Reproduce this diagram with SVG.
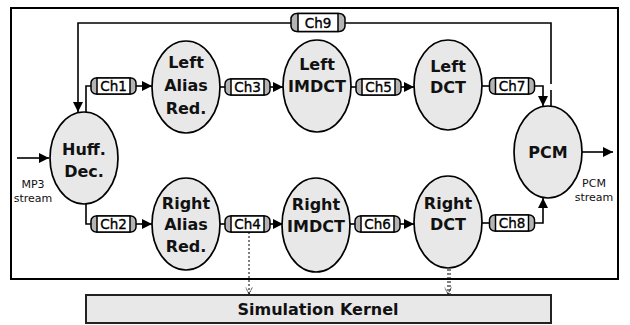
<svg xmlns="http://www.w3.org/2000/svg" width="630" height="325" viewBox="0 0 630 325">
<style>
.node ellipse{fill:#e8e8e8;stroke:#000;stroke-width:1.7}
.lbl{font-family:"DejaVu Sans",sans-serif;font-weight:bold;font-size:16px;text-anchor:middle;fill:#111}
.cap{fill:#b4b4b4;stroke:#000;stroke-width:1.5}
.mid{fill:#fff;stroke:#000;stroke-width:1.5}
.ct{font-family:"DejaVu Sans",sans-serif;font-size:13.5px;text-anchor:middle;fill:#000;stroke:#000;stroke-width:0.35}
.sm{font-family:"DejaVu Sans",sans-serif;font-size:11px;text-anchor:middle;fill:#111}
.w{fill:none;stroke:#000;stroke-width:1.6}
.dot{fill:none;stroke:#000;stroke-width:1;stroke-dasharray:2 2}
</style>
<defs>
<marker id="ah" viewBox="0 0 10 10" refX="10" refY="5" markerWidth="10" markerHeight="10" markerUnits="userSpaceOnUse" orient="auto">
<path d="M0,0 L10,5 L0,10 z" fill="#000"/>
</marker>
<marker id="ao" viewBox="0 0 10 10" refX="9" refY="5" markerWidth="8" markerHeight="8" markerUnits="userSpaceOnUse" orient="auto">
<path d="M1,1 L9,5 L1,9" fill="none" stroke="#000" stroke-width="1.2" stroke-dasharray="1.5 1"/>
</marker>
</defs>
<rect x="0" y="0" width="630" height="325" fill="#fff"/>
<rect id="frame" x="11" y="8" width="607" height="271" fill="#fff" stroke="#000" stroke-width="2"/>
<g id="kernel">
<rect x="86" y="295" width="465" height="28" fill="#e8e8e8" stroke="#222" stroke-width="2"/>
<text class="lbl" x="318" y="315">Simulation Kernel</text>
</g>
<g id="connectors">
<path class="w" d="M17,158 H49" stroke-width="2.2" marker-end="url(#ah)"/>
<path class="w" d="M86,112 V86 H91"/>
<path class="w" d="M136,86 H152" marker-end="url(#ah)"/>
<path class="w" d="M220,87 H225"/>
<path class="w" d="M270,87 H283" marker-end="url(#ah)"/>
<path class="w" d="M351,87 H356"/>
<path class="w" d="M401,87 H414" marker-end="url(#ah)"/>
<path class="w" d="M482,86 H489"/>
<path class="w" d="M535,86 H543 V106" marker-end="url(#ah)"/>
<path class="w" d="M551,107 V90 M551,84 V23 H345"/>
<path class="w" d="M291,23 H78 V112" marker-end="url(#ah)"/>
<path class="w" d="M86,204 V224 H91"/>
<path class="w" d="M136,224 H152" marker-end="url(#ah)"/>
<path class="w" d="M220,224 H225"/>
<path class="w" d="M270,224 H283" marker-end="url(#ah)"/>
<path class="w" d="M350,224 H355"/>
<path class="w" d="M400,224 H414" marker-end="url(#ah)"/>
<path class="w" d="M482,223 H489"/>
<path class="w" d="M535,223 H543 V198" marker-end="url(#ah)"/>
<path class="w" d="M582,152 H613" marker-end="url(#ah)"/>
<path class="dot" d="M249,228 V294" marker-end="url(#ao)"/>
<path class="dot" d="M448,269 V294" marker-end="url(#ao)"/>
<path class="dot" d="M450,269 V294"/>
</g>
<g id="mp3-label"><text class="sm" x="33" y="188">MP3</text><text class="sm" x="33" y="202">stream</text></g>
<g id="pcm-label"><text class="sm" x="594" y="187">PCM</text><text class="sm" x="594" y="201">stream</text></g>
<g id="huff" class="node"><ellipse cx="84" cy="158" rx="34" ry="46"/><text class="lbl" x="84" y="155">Huff.</text><text class="lbl" x="84" y="177">Dec.</text></g>
<g id="left-alias" class="node"><ellipse cx="186" cy="87" rx="34" ry="46"/><text class="lbl" x="186" y="68">Left</text><text class="lbl" x="186" y="91">Alias</text><text class="lbl" x="186" y="114">Red.</text></g>
<g id="left-imdct" class="node"><ellipse cx="317" cy="86" rx="34" ry="46"/><text class="lbl" x="317" y="70">Left</text><text class="lbl" x="317" y="92">IMDCT</text></g>
<g id="left-dct" class="node"><ellipse cx="448" cy="85" rx="34" ry="45"/><text class="lbl" x="448" y="72">Left</text><text class="lbl" x="448" y="93">DCT</text></g>
<g id="pcm" class="node"><ellipse cx="548" cy="152" rx="34" ry="46"/><text class="lbl" x="548" y="158" font-size="17">PCM</text></g>
<g id="right-alias" class="node"><ellipse cx="186" cy="224" rx="34" ry="46"/><text class="lbl" x="186" y="209">Right</text><text class="lbl" x="186" y="230">Alias</text><text class="lbl" x="186" y="252">Red.</text></g>
<g id="right-imdct" class="node"><ellipse cx="316" cy="225" rx="34" ry="47"/><text class="lbl" x="316" y="210">Right</text><text class="lbl" x="316" y="232">IMDCT</text></g>
<g id="right-dct" class="node"><ellipse cx="448" cy="222" rx="34" ry="46"/><text class="lbl" x="448" y="209">Right</text><text class="lbl" x="448" y="230">DCT</text></g>
<g id="ch1" transform="translate(113.5,86)"><rect class="cap" x="-22.5" y="-8" width="45" height="16" rx="5"/><rect class="mid" x="-16.5" y="-8" width="33" height="16"/><text class="ct" y="5">Ch1</text></g>
<g id="ch3" transform="translate(247.5,87)"><rect class="cap" x="-22.5" y="-8" width="45" height="16" rx="5"/><rect class="mid" x="-16.5" y="-8" width="33" height="16"/><text class="ct" y="5">Ch3</text></g>
<g id="ch5" transform="translate(378.5,87)"><rect class="cap" x="-22.5" y="-8" width="45" height="16" rx="5"/><rect class="mid" x="-16.5" y="-8" width="33" height="16"/><text class="ct" y="5">Ch5</text></g>
<g id="ch7" transform="translate(512,86)"><rect class="cap" x="-22.5" y="-8" width="45" height="16" rx="5"/><rect class="mid" x="-16.5" y="-8" width="33" height="16"/><text class="ct" y="5">Ch7</text></g>
<g id="ch9" transform="translate(318,22.5)"><rect class="cap" x="-27" y="-9" width="54" height="18" rx="5.5"/><rect class="mid" x="-20" y="-9" width="40" height="18"/><text class="ct" y="5">Ch9</text></g>
<g id="ch2" transform="translate(113.5,224)"><rect class="cap" x="-22.5" y="-8" width="45" height="16" rx="5"/><rect class="mid" x="-16.5" y="-8" width="33" height="16"/><text class="ct" y="5">Ch2</text></g>
<g id="ch4" transform="translate(247.5,224)"><rect class="cap" x="-22.5" y="-8" width="45" height="16" rx="5"/><rect class="mid" x="-16.5" y="-8" width="33" height="16"/><text class="ct" y="5">Ch4</text></g>
<g id="ch6" transform="translate(377.5,224)"><rect class="cap" x="-22.5" y="-8" width="45" height="16" rx="5"/><rect class="mid" x="-16.5" y="-8" width="33" height="16"/><text class="ct" y="5">Ch6</text></g>
<g id="ch8" transform="translate(512,223)"><rect class="cap" x="-22.5" y="-8" width="45" height="16" rx="5"/><rect class="mid" x="-16.5" y="-8" width="33" height="16"/><text class="ct" y="5">Ch8</text></g>
</svg>
